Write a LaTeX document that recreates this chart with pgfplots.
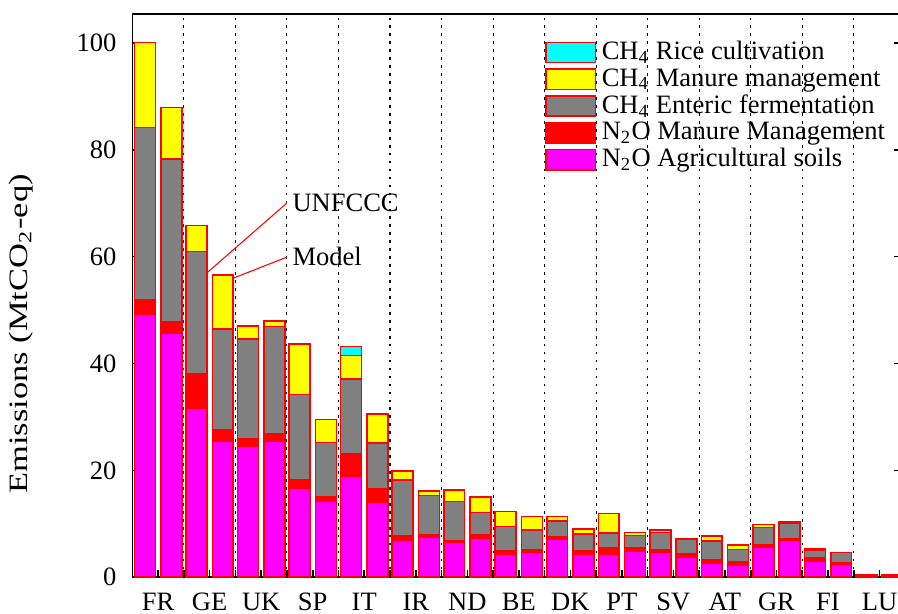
\documentclass[border=0pt]{standalone}
\usepackage{fontspec}
\setmainfont{Liberation Serif}
\usepackage{graphicx}
\usepackage{pgfplots}
\usepackage{pgfplotstable}
\pgfplotsset{compat=1.18}

\definecolor{cmag}{RGB}{255,0,255}
\definecolor{cred}{RGB}{255,0,0}
\definecolor{cgray}{RGB}{128,128,128}
\definecolor{cyel}{RGB}{255,255,0}
\definecolor{ccyan}{RGB}{0,255,255}

% x: country k, UNFCCC at k-0.255, Model at k+0.255
\pgfplotstableread{
x      soil nman ent  cman rice
-0.255 49.2 2.8  32.2 15.9 0
0.255  45.7 2.1  30.5 9.6  0
0.745  31.7 6.4  22.9 4.8  0
1.255  25.5 2.1  18.9 10.1 0
1.745  24.5 1.5  18.6 2.4  0
2.255  25.5 1.4  20.0 1.1  0
2.745  16.7 1.6  15.9 9.5  0
3.255  14.3 0.7  10.2 4.3  0
3.745  19.0 4.1  14.0 4.4  1.7
4.255  14.1 2.4  8.6  5.4  0
4.745  7.0  0.7  10.5 1.7  0
5.255  7.5  0.4  7.4  0.8  0
5.745  6.5  0.3  7.4  2.1  0
6.255  7.4  0.6  4.1  2.9  0
6.745  4.4  0.6  4.5  2.8  0
7.255  4.6  0.6  3.7  2.5  0
7.745  7.1  0.5  2.9  0.9  0
8.255  4.4  0.6  3.1  0.9  0
8.745  4.3  1.2  2.8  3.6  0
9.255  4.9  0.7  2.2  0.6  0
9.745  4.7  0.5  3.2  0.5  0
10.255 3.7  0.6  2.9  0    0
10.745 2.6  0.6  3.6  0.9  0
11.255 2.2  0.7  2.3  0.8  0
11.745 5.6  0.5  3.2  0.6  0
12.255 6.9  0.3  2.9  0.2  0
12.745 3.0  0.6  1.5  0.3  0
13.255 2.4  0.4  1.8  0    0
13.745 0.2  0.1  0.15 0    0
14.255 0.3  0.15 0.1  0    0
}\emis

\begin{document}
\begin{tikzpicture}
\begin{axis}[
  name=ax,
  scale only axis,
  width=289.8pt, height=212.3pt,
  ybar stacked, bar width=0.405,
  xmin=-0.5, xmax=14.42, ymin=0, ymax=105.4,
  xtick={0,...,14},
  xticklabels={FR,GE,UK,SP,IT,IR,ND,BE,DK,PT,SV,AT,GR,FI,LU},
  minor xtick={0.5,1.5,...,13.5},
  xminorgrids,
  minor x grid style={black, line width=0.4pt, dash pattern=on 1pt off 2pt},
  ytick={0,20,...,100},
  tick align=inside, xtick pos=left,
  major tick length=2.6pt, minor tick length=2.6pt,
  tick style={black, line width=0.6pt},
  axis line style={line width=0.6pt},
  /pgf/number format/assume math mode=true,
  xticklabel style={yshift=-2.5pt},
  yticklabel style={xshift=-2.5pt},
  ylabel={\scalebox{1.3}[1]{Emissions (MtCO\textsubscript{2}-eq)}},
  every axis y label/.style={at={(axis description cs:-0.145,0.432)}, rotate=90, anchor=center},
  reverse legend, legend cell align=left,
  legend style={at={(rel axis cs:0.536,0.962)}, anchor=north west,
    draw=none, fill=none, inner sep=0pt, row sep=-2.2pt},
  seg/.style={draw=cred, line width=0.6pt, fill=#1,
    legend image code/.code={\draw[##1] (0pt,-3.8pt) rectangle (18.8pt,3.8pt);}},
]
\addplot[seg=cmag] table[x=x, y=soil] {\emis};
\addplot[seg=cred] table[x=x, y=nman] {\emis};
\addplot[seg=cgray] table[x=x, y=ent] {\emis};
\addplot[seg=cyel] table[x=x, y=cman] {\emis};
\addplot[seg=ccyan] table[x=x, y=rice] {\emis};
\legend{N\textsubscript{2}O Agricultural soils,
  N\textsubscript{2}O Manure Management,
  CH\textsubscript{4} Enteric fermentation,
  CH\textsubscript{4} Manure management,
  CH\textsubscript{4} Rice cultivation}

\draw[cred, line width=0.4pt] (axis cs:0.749,55.3) -- (axis cs:2.495,70.0);
\node[anchor=west, inner sep=2pt] at (axis cs:2.495,70.0) {UNFCCC};
\draw[cred, line width=0.4pt] (axis cs:1.254,55.2) -- (axis cs:2.495,59.9);
\node[anchor=west, inner sep=2pt] at (axis cs:2.495,60.0) {Model};
\end{axis}
\pgfresetboundingbox
\path[use as bounding box] ([xshift=-49.9pt,yshift=-13.6pt]ax.south west)
  rectangle ([xshift=288.6pt,yshift=5.3pt]ax.north west);
\end{tikzpicture}
\end{document}
